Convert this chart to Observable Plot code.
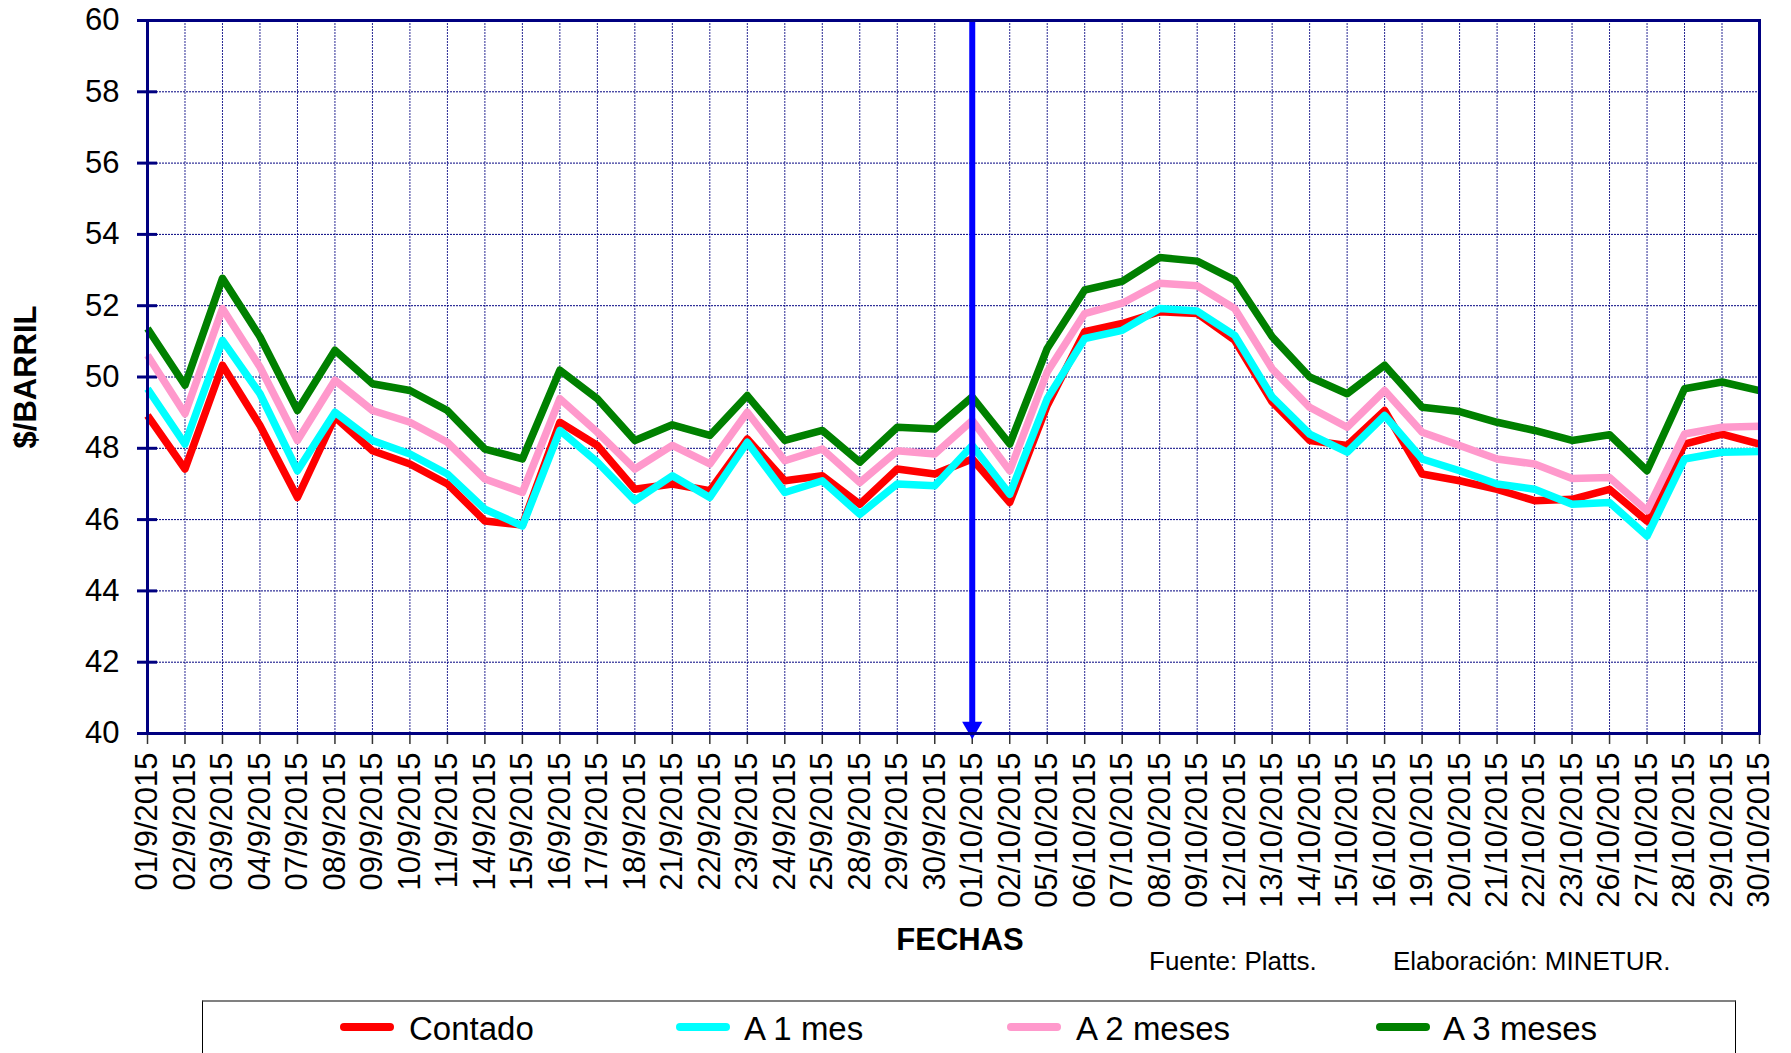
<!DOCTYPE html>
<html>
<head>
<meta charset="utf-8">
<script src="https://cdn.jsdelivr.net/npm/d3@7"></script>
<script src="https://cdn.jsdelivr.net/npm/@observablehq/plot@0.6"></script>
<style>
  body { margin: 0; background: #fff; font-family: "Liberation Sans", Arial, sans-serif; }
  #wrap { position: relative; width: 1791px; height: 1053px; overflow: hidden; background: #fff; }
  #chart { position: absolute; left: 0; top: 0; }
  .ov { position: absolute; white-space: nowrap; color: #000; line-height: 1; }
  #xlab { left: 960px; top: 939px; transform: translate(-50%, -50%); font-weight: bold; font-size: 31px; }
  #ylab { left: 25px; top: 377px; transform: translate(-50%, -50%) rotate(-90deg); font-weight: bold; font-size: 31px; }
  #src1 { left: 1149px; top: 961px; transform: translateY(-50%); font-size: 26px; }
  #src2 { left: 1393px; top: 961px; transform: translateY(-50%); font-size: 26px; }
  #legbox { position: absolute; left: 202px; top: 1000px; width: 1534px; height: 90px; border: 1px solid #000; border-top: 2px solid #808080; box-sizing: border-box; }
  .sw { position: absolute; height: 8px; width: 54px; border-radius: 4px; transform: translateY(-50%); }
  .lt { position: absolute; font-size: 33px; transform: translateY(-50%); line-height: 1; white-space: nowrap; }
</style>
</head>
<body>
<div id="wrap">
  <div id="chart"></div>
  <div class="ov" id="xlab">FECHAS</div>
  <div class="ov" id="ylab">$/BARRIL</div>
  <div class="ov" id="src1">Fuente: Platts.</div>
  <div class="ov" id="src2">Elaboración: MINETUR.</div>
  <div id="legbox"></div>
  <div id="legend"></div>
</div>
<script>
const fechas = ["01/9/2015","02/9/2015","03/9/2015","04/9/2015","07/9/2015","08/9/2015","09/9/2015","10/9/2015","11/9/2015","14/9/2015","15/9/2015","16/9/2015","17/9/2015","18/9/2015","21/9/2015","22/9/2015","23/9/2015","24/9/2015","25/9/2015","28/9/2015","29/9/2015","30/9/2015","01/10/2015","02/10/2015","05/10/2015","06/10/2015","07/10/2015","08/10/2015","09/10/2015","12/10/2015","13/10/2015","14/10/2015","15/10/2015","16/10/2015","19/10/2015","20/10/2015","21/10/2015","22/10/2015","23/10/2015","26/10/2015","27/10/2015","28/10/2015","29/10/2015","30/10/2015"];

const contado = [48.92,47.42,50.33,48.64,46.62,48.87,47.93,47.56,47.00,45.96,45.85,48.73,48.08,46.85,47.00,46.81,48.26,47.09,47.23,46.43,47.42,47.28,47.70,46.48,49.20,51.27,51.50,51.83,51.78,51.03,49.30,48.22,48.08,49.06,47.28,47.09,46.85,46.53,46.57,46.85,45.96,48.12,48.40,48.12];
const a1mes = [49.67,48.12,51.03,49.53,47.37,49.01,48.22,47.84,47.28,46.29,45.82,48.50,47.61,46.53,47.23,46.62,48.17,46.76,47.09,46.15,47.00,46.95,48.08,46.71,49.39,51.08,51.31,51.92,51.85,51.17,49.44,48.40,47.89,48.92,47.70,47.37,47.00,46.85,46.43,46.48,45.54,47.70,47.89,47.91];
const a2meses = [50.61,48.97,51.92,50.28,48.22,49.91,49.06,48.73,48.17,47.14,46.76,49.39,48.45,47.42,48.08,47.56,49.01,47.65,47.98,47.04,47.93,47.84,48.78,47.37,50.14,51.78,52.07,52.63,52.56,51.92,50.23,49.15,48.59,49.62,48.45,48.08,47.70,47.56,47.15,47.18,46.25,48.40,48.59,48.62];
const a3meses = [51.36,49.77,52.77,51.13,49.06,50.75,49.81,49.62,49.06,47.98,47.70,50.19,49.39,48.22,48.66,48.36,49.48,48.22,48.50,47.61,48.59,48.54,49.44,48.12,50.80,52.44,52.68,53.35,53.25,52.72,51.13,50.00,49.53,50.33,49.15,49.03,48.73,48.50,48.22,48.38,47.37,49.67,49.86,49.62];

const series = ["Contado", "A 1 mes", "A 2 meses", "A 3 meses"];
const colores = ["#ff0000", "#00ffff", "#ff99cc", "#008000"];
const yTicks = [40, 42, 44, 46, 48, 50, 52, 54, 56, 58, 60];
const fechaMarca = "01/10/2015";

const valores = [contado, a1mes, a2meses, a3meses];
const datos = series.flatMap((s, k) => fechas.map((f, i) => ({fecha: f, serie: s, valor: valores[k][i]})));

const chart = Plot.plot({
  width: 1791,
  height: 920,
  marginLeft: 147,
  marginRight: 32,
  marginTop: 20,
  marginBottom: 187,
  style: {fontFamily: "'Liberation Sans', Arial, sans-serif", fontSize: "31px", color: "#000", background: "#fff"},
  x: {type: "point", domain: fechas, padding: 0, round: false, label: null},
  y: {domain: [40, 60], label: null},
  color: {domain: series, range: colores},
  marks: [
    Plot.gridY({ticks: yTicks, stroke: "#000080", strokeOpacity: 1, strokeDasharray: "2,1", strokeWidth: 1}),
    Plot.gridX({stroke: "#000080", strokeOpacity: 0.85, strokeDasharray: "2,1", strokeWidth: 1}),
    Plot.axisY({ticks: yTicks, tickSize: 10, tickPadding: 18, stroke: "#000080", strokeWidth: 3, fontSize: 31, label: null}),
    Plot.axisY({ticks: yTicks, tickSize: -10, tickFormat: () => "", stroke: "#000080", strokeWidth: 3, label: null}),
    Plot.axisX({tickRotate: -90, tickSize: 11, tickPadding: 8, stroke: "#333", strokeWidth: 1.5, fontSize: 31, label: null}),
    Plot.line(datos, {x: "fecha", y: "valor", z: "serie", stroke: "serie", strokeWidth: 7.5, strokeLinejoin: "round", strokeLinecap: "butt"}),
    Plot.ruleX([fechaMarca], {x: d => d, y1: 60, y2: 40.3, stroke: "#0000ff", strokeWidth: 6}),
    Plot.dot([fechaMarca], {x: d => d, y: 40, symbol: "triangle", rotate: 180, r: 7.5, fill: "#0000ff", stroke: null, dy: -6}),
    Plot.frame({stroke: "#000080", strokeWidth: 3})
  ]
});
document.getElementById("chart").appendChild(chart);

// legend (HTML, below the SVG)
const legX = [[340, 409], [676, 744], [1007, 1076], [1376, 1443]];
const leg = document.getElementById("legend");
series.forEach((s, k) => {
  const sw = document.createElement("div");
  sw.className = "sw";
  sw.style.left = legX[k][0] + "px";
  sw.style.top = "1027px";
  sw.style.background = colores[k];
  leg.appendChild(sw);
  const t = document.createElement("div");
  t.className = "lt";
  t.style.left = legX[k][1] + "px";
  t.style.top = "1028px";
  t.textContent = s;
  leg.appendChild(t);
});
</script>
</body>
</html>
